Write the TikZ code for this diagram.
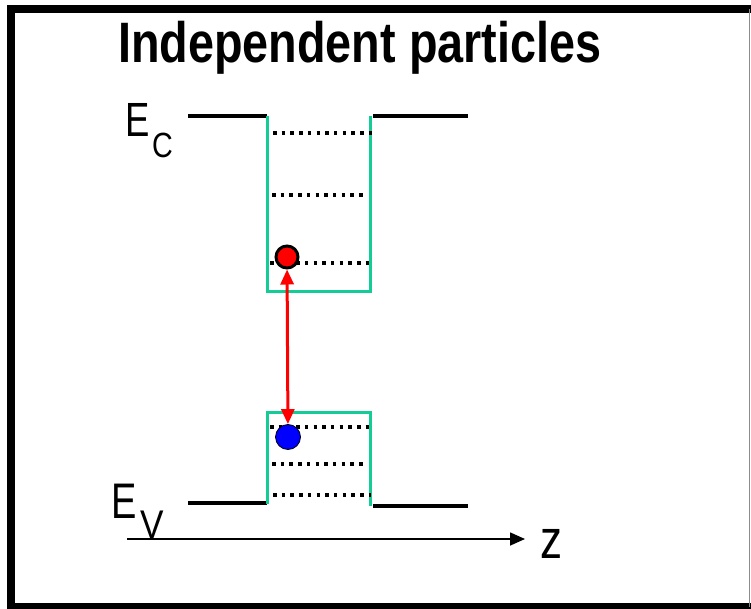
\documentclass[tikz,border=0pt]{standalone}
\usepackage{fontspec}
\setmainfont{Liberation Sans}
\usetikzlibrary{arrows.meta}
\definecolor{wellgreen}{RGB}{20,204,150}

\begin{document}
\begin{tikzpicture}[x=1pt, y=-1pt,
    band/.style={line width=4pt, black},
    well/.style={line width=3pt, wellgreen},
    level/.style={line width=3.5pt, dash pattern=on 3.5pt off 5.2pt},
    carrier/.style={circle, inner sep=0pt, minimum size=22pt}]
    \useasboundingbox (0,0) rectangle (751,609);
    % frame
    \draw[line width=8pt] (751,9) -- (11,9) -- (11,607) -- (751,607);
    \draw[line width=1.2pt, black!45] (749.5,9) -- (749.5,607);

    % title
    \node[anchor=base west, inner sep=0pt] (title) at (118,63)
        {\scalebox{0.82}[1]{\fontsize{57}{57}\bfseries\selectfont Independent particles}};

    % conduction band with well
    \draw[band] (188,116) -- (267,116);
    \draw[band] (373,116) -- (468,116);
    \draw[well] (267,116) -- (267,291) -- (370.5,291) -- (370.5,116);
    \draw[level] (273,133) -- (372,133);
    \draw[level] (272,195) -- (363,195);
    \draw[level] (270,263) -- (369,263);

    % valence band with barrier
    \draw[band] (188,503) -- (267,503);
    \draw[band] (373,506) -- (468,506);
    \draw[well] (267,504) -- (267,412) -- (370.5,412) -- (370.5,506);
    \draw[level] (270,427) -- (369,427);
    \draw[level] (272,464) -- (364,464);
    \draw[level] (273,495) -- (371,495);

    % carriers
    \node[carrier, fill=red, draw=black, line width=3pt, minimum size=22pt] (elec) at (287,257) {};
    \node[carrier, fill=blue, draw=black, line width=0.8pt, minimum size=25pt] (hole) at (288,437) {};
    \draw[red, line width=3pt, {Triangle[length=15pt,width=13pt]}-{Triangle[length=15pt,width=13pt]}]
        (elec) -- (hole);

    % labels
    \node[anchor=base west, inner sep=0pt] (ec) at (125,137)
        {\scalebox{0.76}[1]{\fontsize{48}{48}\selectfont E}};
    \node[anchor=base west, inner sep=0pt] at (152,158)
        {\scalebox{0.82}[1]{\fontsize{35}{35}\selectfont C}};
    \node[anchor=base west, inner sep=0pt] (ev) at (111,518)
        {\scalebox{0.76}[1]{\fontsize{50}{50}\selectfont E}};
    \node[anchor=base west, inner sep=0pt] at (140,538)
        {\scalebox{0.88}[1]{\fontsize{40}{40}\selectfont V}};

    % z axis
    \coordinate (zstart) at (127,539);
    \coordinate (zend) at (525,539);
    \draw[line width=1.6pt, -{Triangle[length=15pt,width=13pt]}] (zstart) -- (zend);
    \node[anchor=base west, inner sep=0pt] (zlab) at (540,558)
        {\scalebox{0.8}[1]{\fontsize{55}{55}\selectfont z}};
\end{tikzpicture}
\end{document}
